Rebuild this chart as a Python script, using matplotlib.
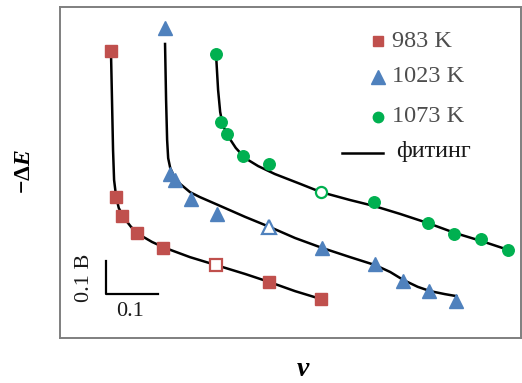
import matplotlib
matplotlib.use("Agg")
import matplotlib.pyplot as plt

# ---------------------------------------------------------------------------
# Data (v, -dE in V, arbitrary offsets)
# ---------------------------------------------------------------------------
labels = ["983 K", "1023 K", "1073 K"]

v_983 = [0.098, 0.108, 0.119, 0.148, 0.198, 0.402, 0.502]
e_983 = [0.870, 0.427, 0.370, 0.318, 0.273, 0.170, 0.118]
v_983_open = [0.300]
e_983_open = [0.221]

v_1023 = [0.202, 0.212, 0.221, 0.252, 0.302, 0.504, 0.606, 0.660, 0.710, 0.762]
e_1023 = [0.939, 0.497, 0.479, 0.421, 0.376, 0.273, 0.224, 0.173, 0.142, 0.112]
v_1023_open = [0.402]
e_1023_open = [0.336]

v_1073 = [0.300, 0.310, 0.321, 0.352, 0.402, 0.604, 0.708, 0.758, 0.810, 0.862]
e_1073 = [0.861, 0.655, 0.618, 0.552, 0.527, 0.412, 0.348, 0.315, 0.300, 0.267]
v_1073_open = [0.502]
e_1073_open = [0.442]

# fitted curves
fit_v_983 = [0.098, 0.100, 0.102, 0.104, 0.108, 0.113, 0.123, 0.137, 0.154,
             0.177, 0.202, 0.250, 0.300, 0.356, 0.402, 0.452, 0.502]
fit_e_983 = [0.870, 0.721, 0.570, 0.479, 0.427, 0.394, 0.364, 0.336, 0.312,
             0.291, 0.273, 0.245, 0.221, 0.194, 0.170, 0.142, 0.118]

fit_v_1023 = [0.202, 0.204, 0.206, 0.208, 0.212, 0.219, 0.231, 0.250, 0.269,
              0.304, 0.356, 0.404, 0.452, 0.504, 0.558, 0.606, 0.635, 0.660,
              0.688, 0.712, 0.740, 0.762]
fit_e_1023 = [0.891, 0.721, 0.600, 0.545, 0.515, 0.491, 0.467, 0.442, 0.427,
              0.403, 0.367, 0.336, 0.303, 0.273, 0.245, 0.221, 0.200, 0.176,
              0.155, 0.142, 0.133, 0.127]

fit_v_1073 = [0.300, 0.304, 0.308, 0.313, 0.323, 0.338, 0.356, 0.381, 0.413,
              0.462, 0.502, 0.558, 0.604, 0.654, 0.708, 0.760, 0.810, 0.862]
fit_e_1073 = [0.861, 0.752, 0.685, 0.645, 0.612, 0.576, 0.545, 0.521, 0.497,
              0.467, 0.442, 0.418, 0.400, 0.376, 0.348, 0.318, 0.294, 0.267]

scale_v = 0.1
scale_e = 0.1

# ---------------------------------------------------------------------------
red = "#C0504D"
blue = "#4F81BD"
green = "#00B050"
plt.rcParams["font.family"] = ["Liberation Serif", "DejaVu Serif"]
plt.rcParams["mathtext.fontset"] = "custom"
plt.rcParams["mathtext.rm"] = "Liberation Serif"
plt.rcParams["mathtext.it"] = "Liberation Serif:italic"
plt.rcParams["mathtext.bf"] = "Liberation Serif:bold"
plt.rcParams["mathtext.bfit"] = "Liberation Serif:italic:bold"

fig = plt.figure(figsize=(5.22, 3.83), dpi=100)
ax = fig.add_axes([60 / 522, 45 / 383, 461 / 522, 331 / 383])
ax.set_xlim(0, 0.8865)
ax.set_ylim(0, 1.003)
ax.set_xticks([])
ax.set_yticks([])
for s in ax.spines.values():
    s.set_color("#7f7f7f")
    s.set_linewidth(1.4)

for fv, fe in [(fit_v_983, fit_e_983), (fit_v_1023, fit_e_1023), (fit_v_1073, fit_e_1073)]:
    ax.plot(fv, fe, color="black", lw=1.8, zorder=2)

ax.plot(v_983, e_983, "s", color=red, ms=8.3, mec=red, zorder=3)
ax.plot(v_983_open, e_983_open, "s", mfc="white", mec=red, mew=1.6, ms=8.0, zorder=3)
ax.plot(v_1023, e_1023, "^", color=blue, ms=10.5, mec=blue, zorder=3)
ax.plot(v_1023_open, e_1023_open, "^", mfc="white", mec=blue, mew=1.6, ms=9.5, zorder=3)
ax.plot(v_1073, e_1073, "o", color=green, ms=8.3, mec=green, zorder=3)
ax.plot(v_1073_open, e_1073_open, "o", mfc="white", mec=green, mew=1.6, ms=8.0, zorder=3)

# legend drawn by hand (keys sit left of the text, line key is longer)
tr = ax.transAxes
key_x, text_x = 0.690, 0.720
rows = [0.897, 0.789, 0.668]
ax.plot([key_x], [rows[0]], "s", color=red, ms=7, transform=tr)
ax.plot([key_x], [rows[1]], "^", color=blue, ms=10, transform=tr)
ax.plot([key_x], [rows[2]], "o", color=green, ms=7.5, transform=tr)
for lab, y in zip(labels, rows):
    ax.text(text_x, y, lab, transform=tr, fontsize=17.5, color="#4d4d4d",
            va="center", ha="left")
ax.plot([0.612, 0.701], [0.559, 0.559], color="black", lw=1.8, transform=tr)
ax.text(0.729, 0.562, "фитинг", transform=tr, fontsize=17.5, color="#1a1a1a",
        va="center", ha="left")

# scale bar
x0, y0 = 0.088, 0.133
ax.plot([x0, x0, x0 + scale_v], [y0 + scale_e, y0, y0], color="black", lw=1.6)
ax.text(x0 + scale_v / 2 - 0.003, y0 - 0.052, f"{scale_v:.1f}", fontsize=16,
        color="#1a1a1a", ha="center", va="center")
ax.text(x0 - 0.04, y0 + 0.048, f"{scale_e:.1f} В", fontsize=16, rotation=90,
        color="#1a1a1a", ha="center", va="center")

fig.text(24 / 522, 1 - 172 / 383, r"$\mathbf{-\Delta}\mathbfit{E}$", rotation=90,
         fontsize=17, ha="center", va="center")
fig.text(303 / 522, 1 - 370 / 383, r"$\mathbfit{v}$", fontsize=20,
         ha="center", va="center")

fig.savefig("out.png", dpi=100)
